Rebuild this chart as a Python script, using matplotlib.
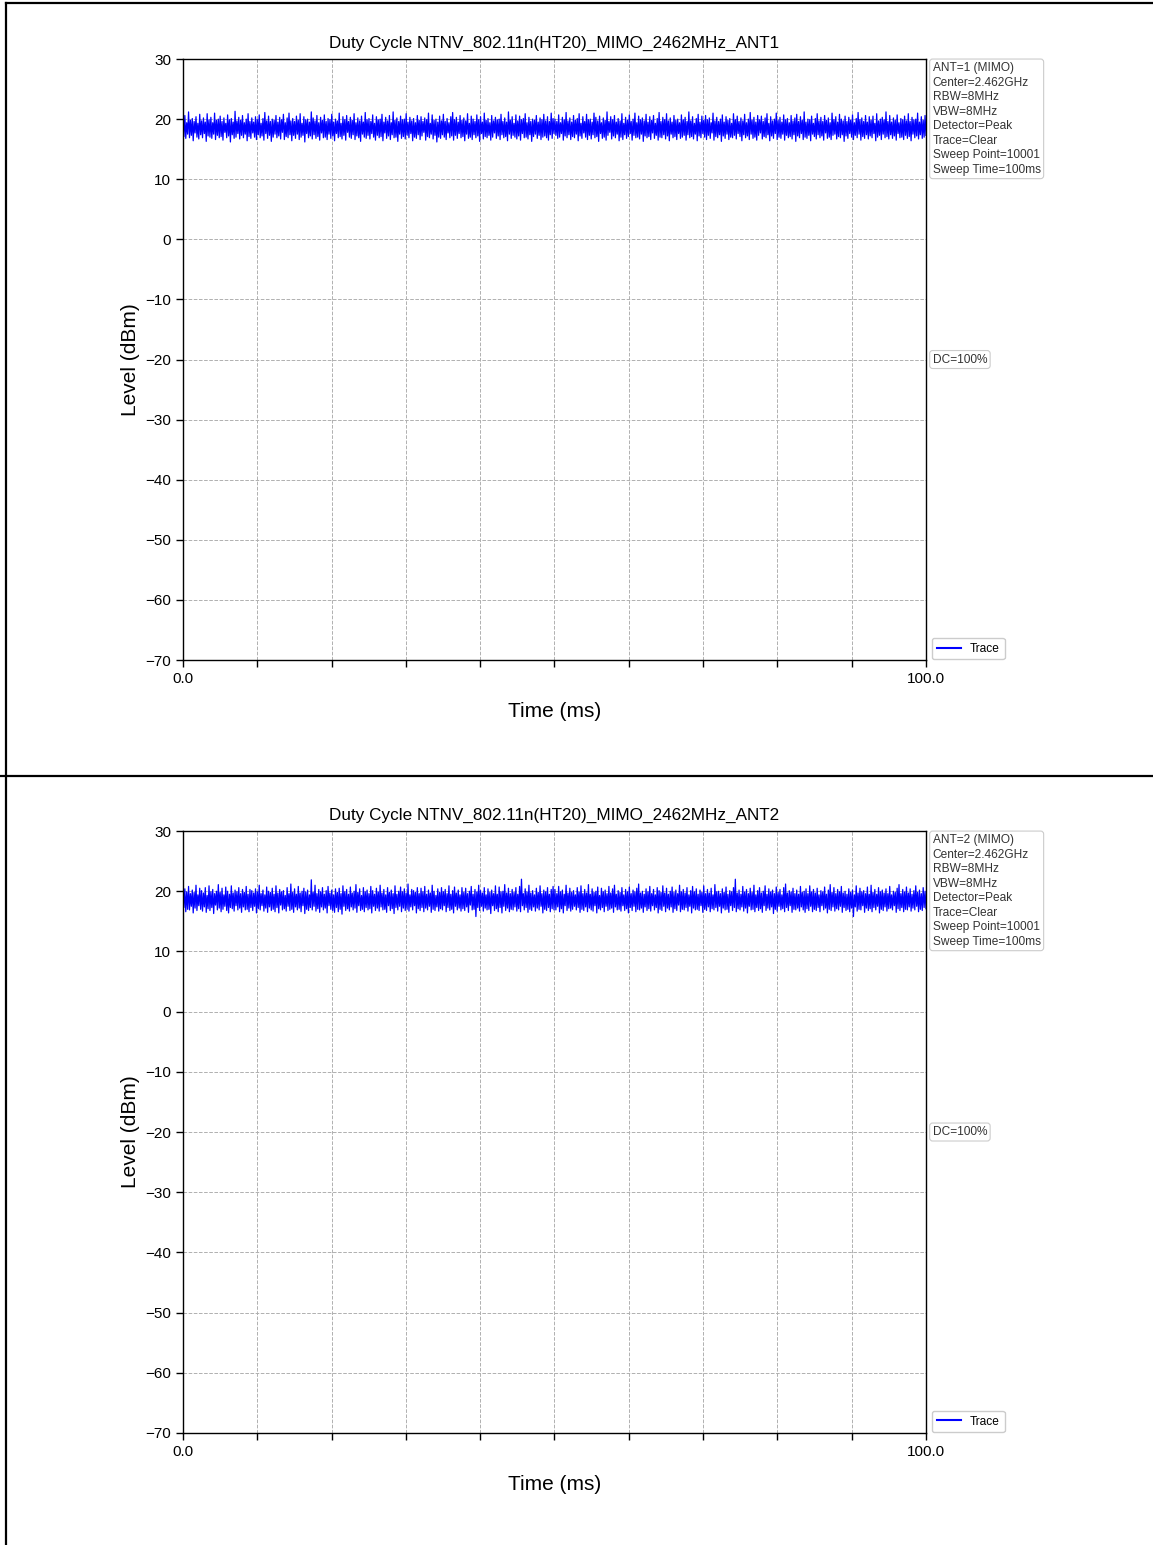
import numpy as np
import matplotlib
matplotlib.use("Agg")
import matplotlib.pyplot as plt
from matplotlib.lines import Line2D

plt.rcParams['font.family'] = ['Liberation Sans', 'DejaVu Sans']

# ========================= DATA =========================
titles = ["Duty Cycle NTNV_802.11n(HT20)_MIMO_2462MHz_ANT1",
          "Duty Cycle NTNV_802.11n(HT20)_MIMO_2462MHz_ANT2"]
info_lines = [
    ["ANT=1 (MIMO)", "Center=2.462GHz", "RBW=8MHz", "VBW=8MHz",
     "Detector=Peak", "Trace=Clear", "Sweep Point=10001", "Sweep Time=100ms"],
    ["ANT=2 (MIMO)", "Center=2.462GHz", "RBW=8MHz", "VBW=8MHz",
     "Detector=Peak", "Trace=Clear", "Sweep Point=10001", "Sweep Time=100ms"],
]
duty_cycle = ["DC=100%", "DC=100%"]
sweep_time_ms = 100.0
y_ticks = [-70, -60, -50, -40, -30, -20, -10, 0, 10, 20, 30]
x_ticks = [0, 10, 20, 30, 40, 50, 60, 70, 80, 90, 100]
x_ticklabels = ["0.0", "", "", "", "", "", "", "", "", "", "100.0"]

# trace levels (dBm) (decimated)
trace_ant1 = [
    19.9, 17.1, 20.6, 16.8, 19.4, 17.5, 21.2, 16.9, 19.8, 17.3, 20.1, 16.4, 19.6, 17.7, 20.4, 17.0, 19.3, 16.7, 20.8, 17.4,
    19.7, 16.9, 20.2, 17.6, 19.5, 16.3, 20.9, 17.2, 19.9, 17.0, 20.3, 16.8, 19.4, 17.5, 21.0, 16.6, 19.8, 17.3, 20.0, 16.9,
    20.5, 17.1, 19.6, 16.5, 20.2, 17.8, 19.3, 16.9, 20.7, 17.2, 19.9, 16.2, 20.1, 17.4, 19.5, 16.8, 21.3, 17.0, 19.7, 17.6,
    20.3, 16.7, 19.8, 17.3, 20.6, 16.9, 19.4, 17.5, 20.0, 16.4, 20.9, 17.1, 19.6, 16.8, 20.2, 17.7, 19.5, 17.0, 20.4, 16.6,
    19.9, 17.4, 20.7, 16.9, 19.3, 17.2, 20.1, 16.5, 21.1, 17.6, 19.7, 16.8, 20.5, 17.3, 19.6, 16.3, 20.0, 17.0, 19.8, 17.5,
    20.6, 16.9, 19.5, 17.2, 20.3, 16.7, 19.9, 17.8, 20.8, 16.6, 19.4, 17.1, 20.2, 16.9, 21.0, 17.4, 19.7, 16.4, 20.1, 17.3,
    19.6, 16.8, 20.5, 17.5, 19.8, 16.6, 20.9, 17.0, 19.3, 17.3, 20.4, 16.2, 19.9, 17.6, 20.0, 16.9, 19.5, 17.2, 21.2, 16.7,
    20.2, 17.4, 19.7, 16.8, 20.6, 17.1, 19.4, 16.5, 20.3, 17.7, 19.8, 16.9, 20.7, 17.0, 19.6, 16.6, 20.1, 17.5, 19.9, 16.8,
    20.8, 17.2, 19.5, 16.4, 20.0, 17.6, 19.7, 16.9, 21.0, 17.1, 19.3, 16.7, 20.4, 17.3, 19.9, 16.5, 20.6, 17.8, 19.6, 17.0,
    20.3, 16.8, 19.8, 17.4, 20.9, 16.6, 19.4, 17.2, 20.2, 16.9, 19.7, 16.3, 20.5, 17.5, 19.5, 17.0, 21.1, 16.8, 19.9, 17.3,
    20.1, 16.7, 19.6, 17.6, 20.7, 17.0, 19.3, 16.5, 20.4, 17.3, 19.9, 16.9, 20.0, 17.1, 20.8, 16.4, 19.5, 17.7, 20.3, 16.8,
    19.7, 17.2, 20.6, 16.6, 19.4, 17.4, 21.2, 16.9, 19.8, 17.0, 20.2, 16.3, 19.6, 17.5, 20.5, 16.8, 19.9, 17.1, 20.0, 16.7,
    20.9, 17.3, 19.5, 16.9, 20.3, 17.6, 19.7, 16.4, 20.1, 17.0, 19.4, 16.8, 20.6, 17.4, 19.8, 16.6, 20.4, 17.2, 19.6, 17.8,
    20.2, 16.5, 19.9, 17.1, 21.0, 16.9, 19.3, 17.5, 20.7, 16.7, 19.8, 17.3, 20.0, 16.2, 19.5, 17.0, 20.5, 16.8, 19.7, 17.4,
    20.8, 17.0, 19.6, 16.6, 20.1, 17.7, 19.4, 16.9, 20.4, 17.2, 21.1, 16.5, 19.9, 17.3, 20.3, 16.8, 19.5, 17.6, 20.6, 16.9,
    19.8, 17.1, 20.2, 16.4, 19.7, 17.5, 20.9, 16.8, 19.3, 17.0, 20.5, 16.6, 20.0, 17.4, 19.6, 16.9, 20.7, 17.2, 19.9, 16.3,
    20.4, 17.6, 19.5, 16.7, 21.0, 17.1, 19.8, 16.9, 20.1, 17.3, 19.4, 16.5, 20.6, 17.0, 19.7, 17.7, 20.3, 16.8, 19.9, 17.2,
    20.0, 16.6, 20.8, 17.4, 19.6, 16.9, 20.2, 17.1, 19.5, 16.4, 21.2, 17.5, 19.8, 16.8, 20.4, 17.3, 19.3, 17.0, 20.7, 16.7,
    19.7, 17.2, 20.5, 16.5, 19.9, 17.6, 20.1, 16.9, 20.9, 17.0, 19.4, 16.7, 20.3, 17.4, 19.6, 16.3, 20.0, 17.1, 19.8, 17.5,
    20.6, 16.8, 19.5, 17.3, 20.2, 16.6, 19.9, 17.0, 20.8, 17.2, 19.7, 16.9, 20.4, 16.5, 19.6, 17.4, 21.0, 16.8, 20.1, 17.6,
    20.0, 17.3, 19.6, 16.8, 20.7, 17.0, 19.4, 17.6, 20.3, 16.5, 19.9, 17.2, 21.1, 16.9, 19.7, 17.4, 20.2, 16.6, 19.5, 17.1,
    20.6, 16.9, 19.8, 17.5, 20.1, 16.4, 20.9, 17.2, 19.3, 16.8, 20.4, 17.7, 19.6, 17.0, 20.8, 16.6, 19.9, 17.3, 20.0, 16.7,
    19.5, 17.4, 21.0, 16.9, 20.3, 17.1, 19.7, 16.3, 20.5, 17.6, 19.4, 16.8, 20.2, 17.0, 19.8, 16.5, 21.2, 17.3, 19.6, 17.8,
    20.4, 16.7, 19.9, 17.2, 20.6, 16.9, 19.5, 17.5, 20.1, 16.4, 19.7, 17.0, 20.9, 16.6, 19.3, 17.4, 20.3, 16.8, 19.8, 17.1,
    20.7, 17.6, 19.6, 16.5, 20.0, 17.3, 21.0, 16.9, 19.4, 17.0, 20.5, 16.7, 19.9, 17.5, 20.2, 16.3, 19.7, 17.2, 20.8, 16.9,
    19.5, 17.1, 20.4, 16.6, 19.8, 17.7, 20.6, 16.8, 19.3, 17.3, 20.1, 16.5, 21.1, 17.0, 19.6, 16.9, 20.3, 17.4, 19.9, 16.7,
    20.9, 17.2, 19.7, 16.4, 20.2, 17.5, 19.5, 16.9, 20.6, 17.1, 19.8, 16.6, 20.0, 17.6, 19.4, 16.8, 20.7, 17.0, 19.9, 17.3,
    20.3, 16.5, 19.6, 17.4, 21.2, 16.9, 19.7, 17.1, 20.4, 16.7, 19.3, 17.5, 20.1, 16.4, 20.8, 17.2, 19.5, 16.9, 20.5, 17.6,
    19.8, 17.0, 20.6, 16.6, 19.9, 17.3, 20.2, 16.8, 19.4, 17.7, 21.0, 16.5, 19.7, 17.1, 20.3, 16.9, 19.6, 17.4, 20.0, 16.3,
    20.7, 17.2, 19.5, 16.8, 20.4, 17.5, 19.8, 16.6, 20.1, 17.0, 19.3, 16.9, 20.9, 17.3, 19.9, 16.7, 20.5, 17.6, 19.6, 17.1,
    20.2, 16.4, 19.7, 17.4, 20.8, 16.9, 19.4, 17.2, 20.0, 16.6, 21.1, 17.5, 19.8, 16.8, 20.3, 17.0, 19.5, 16.5, 20.6, 17.3,
    19.9, 17.7, 20.5, 16.7, 19.6, 17.1, 20.2, 16.9, 20.9, 17.4, 19.3, 16.4, 20.4, 17.2, 19.7, 16.8, 20.0, 17.6, 21.0, 16.6,
    19.8, 17.0, 20.3, 16.8, 19.5, 17.5, 20.7, 16.5, 19.9, 17.3, 20.1, 16.9, 19.4, 17.1, 20.6, 16.7, 19.7, 17.4, 20.2, 16.3,
    20.8, 17.2, 19.6, 16.9, 20.4, 17.6, 19.8, 16.6, 21.2, 17.0, 19.5, 16.8, 20.0, 17.3, 19.9, 16.4, 20.5, 17.5, 19.3, 17.1,
    20.1, 16.7, 20.9, 17.4, 19.7, 16.9, 20.3, 17.2, 19.6, 16.5, 20.6, 17.7, 19.8, 16.8, 20.2, 17.0, 19.4, 16.6, 21.0, 17.3,
    19.9, 17.5, 20.4, 16.7, 19.5, 17.1, 20.8, 16.9, 20.0, 17.4, 19.7, 16.3, 20.5, 17.2, 19.6, 16.8, 20.3, 17.6, 19.8, 17.0,
    20.7, 16.6, 19.4, 17.3, 20.1, 16.9, 21.1, 17.5, 19.9, 16.5, 20.2, 17.1, 19.6, 16.8, 20.6, 17.4, 19.5, 16.7, 20.4, 17.2,
    19.8, 16.9, 20.5, 17.6, 19.3, 16.4, 20.9, 17.0, 19.7, 17.3, 20.0, 16.6, 20.3, 17.5, 19.9, 16.9, 21.2, 17.1, 19.6, 16.7,
    20.6, 17.4, 19.5, 16.8, 20.2, 17.2, 19.8, 16.5, 20.7, 17.6, 19.4, 16.9, 20.1, 17.0, 19.9, 16.6, 20.5, 17.3, 19.7, 16.8,
    20.9, 17.1, 19.6, 16.4, 20.3, 17.5, 19.9, 16.9, 20.0, 17.2, 21.0, 16.7, 19.5, 17.4, 20.4, 16.8, 19.8, 17.0, 20.6, 17.3,
]
trace_ant2 = [
    19.5, 17.3, 20.4, 16.6, 19.9, 17.0, 20.8, 16.9, 19.6, 17.5, 20.2, 16.4, 19.8, 17.2, 21.0, 16.8, 19.4, 17.6, 20.5, 17.0,
    20.1, 16.7, 19.7, 17.4, 20.6, 16.5, 19.3, 17.1, 20.9, 16.8, 19.9, 17.3, 20.3, 16.3, 19.6, 17.7, 20.0, 16.9, 21.1, 17.2,
    19.8, 16.6, 20.5, 17.0, 19.4, 17.5, 20.7, 16.8, 20.0, 16.4, 19.5, 17.3, 20.9, 17.1, 19.7, 16.7, 20.2, 17.6, 19.9, 16.9,
    20.6, 17.2, 19.6, 16.5, 20.3, 17.4, 19.8, 16.9, 20.8, 17.0, 19.5, 16.6, 20.3, 17.3, 20.1, 16.8, 19.7, 17.5, 20.4, 16.4,
    19.9, 17.1, 21.0, 16.9, 19.6, 17.6, 20.2, 16.7, 19.4, 17.2, 20.7, 16.5, 20.0, 17.4, 19.8, 16.8, 20.5, 17.0, 19.5, 16.6,
    20.9, 17.3, 19.7, 16.4, 20.3, 17.7, 19.9, 16.9, 20.1, 17.1, 19.3, 16.7, 20.6, 17.5, 19.6, 16.8, 21.2, 17.0, 19.8, 16.5,
    20.4, 17.4, 19.5, 16.9, 20.8, 17.2, 19.7, 16.6, 20.0, 17.6, 20.5, 16.3, 19.9, 17.0, 20.2, 16.8, 19.4, 17.3, 21.9, 16.9,
    19.8, 17.5, 21.0, 16.7, 19.6, 17.1, 20.3, 16.5, 19.9, 17.4, 20.6, 16.9, 19.5, 17.2, 20.1, 16.4, 20.8, 17.6, 19.7, 17.0,
    20.2, 16.8, 19.4, 16.5, 20.4, 17.3, 19.8, 16.6, 20.5, 17.0, 19.6, 16.2, 20.9, 17.5, 19.9, 16.8, 20.3, 17.1, 19.5, 16.7,
    20.7, 17.4, 19.7, 16.9, 20.0, 17.2, 21.1, 16.5, 19.8, 17.6, 20.4, 16.8, 19.3, 17.0, 20.6, 16.6, 19.9, 17.3, 20.2, 16.9,
    19.6, 17.1, 20.8, 16.4, 20.1, 17.5, 19.5, 16.8, 20.5, 17.2, 19.9, 16.7, 21.0, 17.4, 19.7, 16.9, 20.3, 17.0, 19.4, 16.5,
    20.6, 17.6, 19.8, 16.8, 20.2, 17.1, 19.6, 16.3, 20.9, 17.3, 19.5, 16.9, 20.0, 17.5, 20.7, 16.6, 19.9, 17.2, 20.4, 16.8,
    19.7, 17.0, 21.2, 16.7, 19.4, 17.4, 20.3, 16.9, 20.1, 17.6, 19.8, 16.4, 20.6, 17.1, 19.6, 16.8, 20.5, 17.3, 19.9, 16.6,
    20.8, 17.2, 19.5, 16.9, 20.2, 17.5, 19.7, 16.5, 21.0, 17.0, 20.0, 16.8, 19.3, 17.4, 20.4, 16.7, 19.8, 17.1, 20.6, 16.9,
    19.9, 17.6, 20.3, 16.6, 19.6, 17.3, 20.9, 16.8, 19.5, 17.0, 20.1, 16.4, 20.7, 17.5, 19.7, 16.9, 20.2, 17.2, 19.4, 16.7,
    20.6, 17.1, 19.8, 16.8, 20.5, 17.4, 19.6, 16.5, 20.0, 17.7, 20.8, 16.9, 19.5, 17.0, 20.3, 15.8, 19.9, 17.3, 21.0, 16.8,
    20.1, 17.5, 19.7, 16.7, 20.6, 17.2, 19.4, 16.9, 20.4, 17.0, 19.8, 16.3, 20.2, 17.6, 19.6, 16.8, 20.9, 17.1, 19.5, 16.6,
    20.7, 17.3, 19.9, 16.4, 20.0, 17.5, 21.1, 16.8, 19.7, 17.2, 20.5, 16.6, 19.6, 17.0, 20.3, 16.9, 19.8, 17.4, 20.6, 16.7,
    19.5, 17.1, 20.8, 16.6, 22.0, 17.6, 19.6, 16.9, 20.4, 17.3, 19.9, 16.5, 21.0, 17.0, 19.7, 16.8, 20.1, 17.4, 19.4, 16.7,
    20.5, 17.2, 19.8, 16.9, 20.9, 17.5, 19.6, 16.4, 20.2, 17.0, 19.9, 16.8, 20.6, 17.3, 19.5, 16.6, 20.3, 17.1, 20.8, 16.9,
    20.3, 16.9, 19.6, 17.4, 20.8, 16.6, 19.9, 17.1, 20.2, 16.4, 19.5, 17.6, 21.0, 16.8, 19.7, 17.2, 20.5, 16.7, 19.8, 17.0,
    20.1, 17.5, 19.4, 16.9, 20.6, 17.3, 19.9, 16.5, 20.9, 17.0, 19.6, 16.8, 20.3, 17.4, 19.7, 16.6, 21.1, 17.2, 19.5, 16.9,
    20.4, 16.7, 19.8, 17.6, 20.0, 16.4, 20.7, 17.1, 19.3, 16.9, 20.5, 17.3, 19.9, 16.6, 20.2, 17.5, 19.6, 16.8, 20.8, 17.0,
    19.7, 17.2, 20.4, 16.5, 21.0, 17.4, 19.5, 16.9, 20.1, 17.0, 19.8, 16.7, 20.6, 17.6, 19.4, 16.8, 20.3, 17.1, 19.9, 16.4,
    20.7, 17.3, 19.6, 16.8, 20.2, 17.5, 19.9, 16.6, 20.5, 17.0, 21.2, 16.9, 19.7, 17.2, 20.0, 16.5, 19.5, 17.4, 20.4, 16.8,
    19.9, 17.1, 20.8, 16.7, 19.6, 17.6, 20.3, 16.9, 19.4, 17.3, 20.6, 16.4, 20.1, 17.0, 19.8, 16.8, 20.9, 17.5, 19.7, 16.6,
    20.5, 17.2, 19.5, 16.9, 20.0, 17.4, 20.7, 16.5, 19.8, 17.1, 20.2, 16.8, 19.6, 17.7, 21.0, 16.6, 19.9, 17.0, 20.3, 16.9,
    19.7, 17.3, 20.6, 16.7, 19.4, 17.5, 20.1, 16.4, 20.8, 17.2, 19.9, 16.9, 20.4, 17.0, 19.5, 16.8, 20.2, 17.6, 19.8, 16.5,
    20.9, 17.0, 19.6, 16.8, 20.3, 17.4, 19.7, 16.6, 20.5, 17.1, 19.4, 16.9, 21.1, 17.3, 19.9, 16.7, 20.0, 17.5, 19.6, 16.4,
    20.4, 17.2, 19.8, 16.9, 20.7, 17.0, 19.5, 16.5, 20.1, 17.6, 19.9, 16.8, 20.6, 17.3, 22.0, 16.6, 19.7, 17.1, 20.2, 16.9,
    19.5, 17.4, 20.8, 16.7, 19.9, 17.2, 20.3, 16.4, 19.6, 17.5, 20.5, 16.9, 19.8, 17.0, 21.0, 16.6, 19.4, 17.3, 20.1, 16.8,
    20.6, 17.1, 19.7, 16.5, 20.0, 17.6, 20.9, 16.8, 19.5, 17.2, 20.4, 16.9, 19.9, 17.4, 20.2, 16.3, 19.6, 17.0, 20.7, 16.7,
    19.8, 17.5, 20.3, 16.9, 19.4, 17.1, 20.6, 16.6, 21.2, 17.3, 19.7, 16.8, 20.1, 17.6, 19.9, 16.5, 20.5, 17.0, 19.6, 16.9,
    20.2, 17.2, 19.5, 16.7, 20.8, 17.4, 19.8, 16.9, 20.0, 16.5, 20.4, 17.1, 19.6, 16.8, 20.9, 17.5, 19.9, 16.6, 20.3, 17.0,
    19.7, 16.8, 20.5, 17.3, 19.4, 16.6, 20.1, 17.6, 19.9, 16.9, 20.7, 17.2, 19.5, 16.4, 20.2, 17.0, 21.1, 16.8, 19.8, 17.4,
    20.6, 16.7, 19.6, 17.1, 20.3, 16.9, 19.9, 17.5, 20.8, 16.5, 19.7, 17.3, 20.0, 16.8, 19.5, 17.0, 20.4, 16.6, 19.8, 17.2,
    20.2, 15.8, 19.4, 17.4, 20.9, 16.7, 19.7, 17.0, 20.5, 16.9, 19.9, 17.6, 20.1, 16.5, 19.6, 17.2, 20.7, 16.8, 19.5, 17.1,
    21.0, 16.6, 19.8, 17.3, 20.3, 16.9, 19.5, 17.5, 20.6, 16.4, 19.9, 17.0, 20.2, 16.8, 19.7, 17.4, 20.4, 16.7, 19.6, 17.1,
    20.8, 17.2, 19.4, 16.9, 20.0, 17.6, 19.8, 16.5, 20.5, 17.1, 21.1, 16.8, 19.6, 17.3, 20.3, 16.6, 19.9, 17.0, 20.7, 16.9,
    19.7, 17.4, 20.4, 16.7, 19.5, 17.2, 20.1, 16.9, 20.9, 17.5, 19.8, 16.6, 20.2, 17.0, 19.6, 16.8, 20.6, 17.3, 20.0, 17.1,
]
traces = [trace_ant1, trace_ant2]

# ===================== PLOTTING =====================
fig = plt.figure(figsize=(11.53, 15.45), dpi=100)

# axes rectangles in figure fractions: [left, bottom, width, height]
rects = [[0.1587, 0.5728, 0.6444, 0.3890],
         [0.1587, 0.0725, 0.6444, 0.3896]]

box_style = dict(boxstyle='round,pad=0.25', fc='white', ec='#cccccc', lw=0.8)

for i in range(2):
    ax = fig.add_axes(rects[i])
    y = np.array(traces[i])
    t = np.linspace(0, sweep_time_ms, len(y))
    ax.plot(t, y, color='blue', linewidth=0.9, label='Trace')

    ax.set_xlim(0, sweep_time_ms)
    ax.set_ylim(-70, 30)
    ax.set_yticks(y_ticks)
    ax.set_xticks(x_ticks)
    ax.set_xticklabels(x_ticklabels)
    ax.tick_params(labelsize=11, length=5, width=1)
    ax.grid(True, linestyle='--', color='#b0b0b0', linewidth=0.7)
    for s in ax.spines.values():
        s.set_linewidth(1.0)

    ax.set_title(titles[i], fontsize=12.3, pad=8)
    ax.set_xlabel('Time (ms)', fontsize=15, labelpad=12)
    ax.set_ylabel('Level (dBm)', fontsize=15, labelpad=4)

    # setting boxes on the right
    ax.text(1.009, 0.995, "\n".join(info_lines[i]), transform=ax.transAxes,
            fontsize=8.6, va='top', ha='left', color='#333333',
            linespacing=1.28, bbox=box_style)
    ax.text(1.009, 0.5, duty_cycle[i], transform=ax.transAxes,
            fontsize=8.6, va='center', ha='left', color='#333333', bbox=box_style)

    leg = ax.legend(loc='lower left', bbox_to_anchor=(1.0, -0.009), fontsize=8.6,
                    handlelength=2.0, framealpha=1, edgecolor='#cccccc', fancybox=True)
    leg.get_lines()[0].set_linewidth(1.5)

# page frame lines
fig.add_artist(Line2D([0.0048, 0.0048], [0.0, 0.998], color='black', lw=1.6,
                      transform=fig.transFigure))
fig.add_artist(Line2D([0.0048, 1.0], [0.998, 0.998], color='black', lw=1.6,
                      transform=fig.transFigure))
fig.add_artist(Line2D([0.0, 1.0], [0.4977, 0.4977], color='black', lw=1.6,
                      transform=fig.transFigure))

fig.savefig('out.png', dpi=100)
